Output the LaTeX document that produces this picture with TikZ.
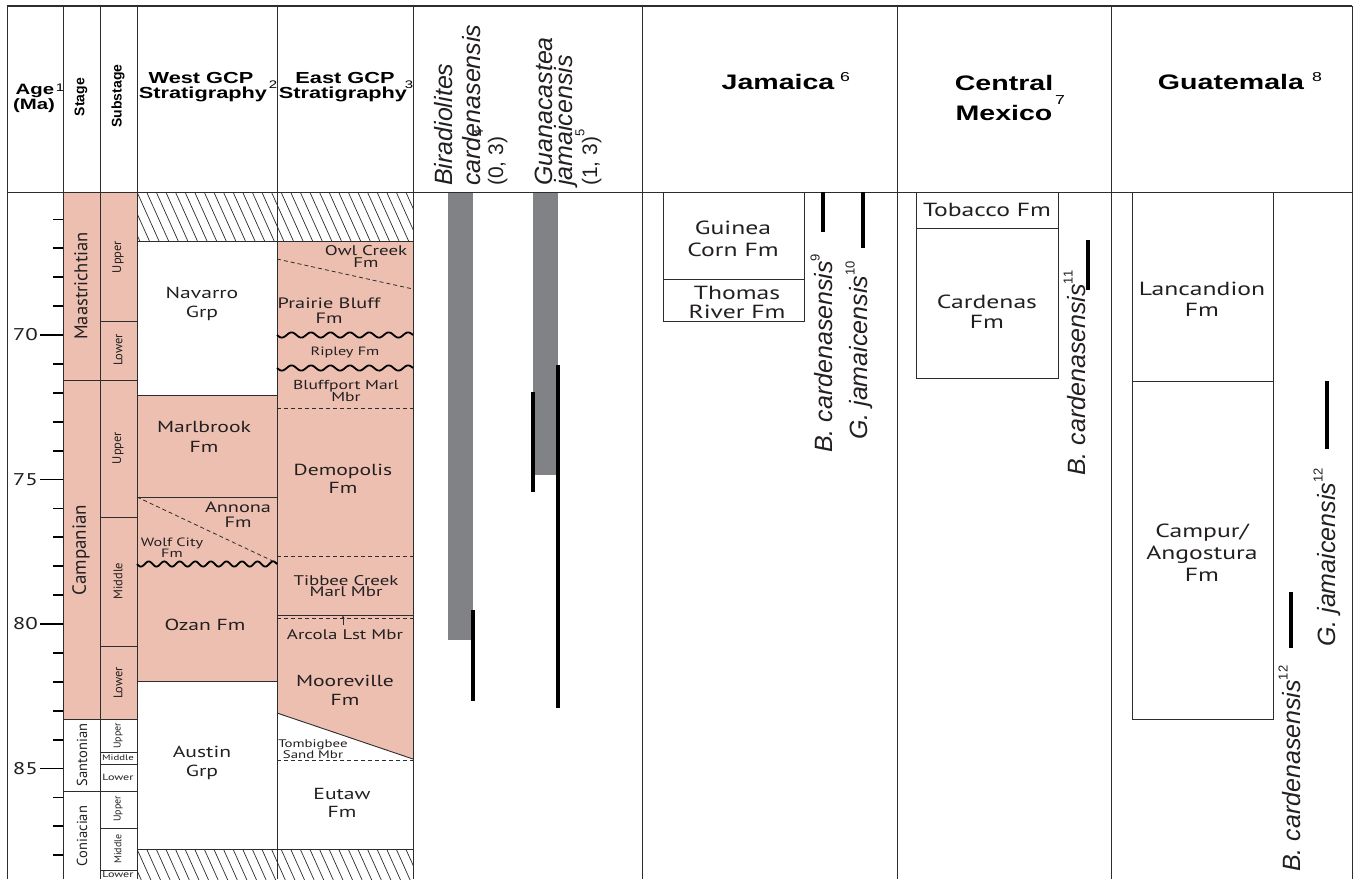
\documentclass[tikz,border=0pt]{standalone}
\usepackage{fontspec}
\setmainfont{Liberation Sans}
\newfontfamily\hdr[FakeStretch=1.36]{Liberation Sans}
\newfontfamily\lab[FakeStretch=1.35]{PT Sans}
\newfontfamily\rlab{PT Sans}
\newfontfamily\spf{Liberation Sans}
\usetikzlibrary{arrows.meta}
\definecolor{pinkf}{RGB}{236,191,177}
\definecolor{barg}{RGB}{128,130,133}
\definecolor{lnc}{RGB}{45,45,45}
\definecolor{txtc}{RGB}{35,31,32}
\newcommand{\myfs}[2]{\fontsize{#1}{#2}\selectfont}
\newcommand{\mysup}[2]{\raisebox{#1}{\myfs{13}{13}\upshape #2}}
\begin{document}
\begin{tikzpicture}[x=1pt,y=-1pt,
  ln/.style={draw=lnc, line width=0.9pt},
  dsh/.style={draw=lnc, line width=0.8pt, dash pattern=on 4pt off 3pt},
  wav/.style={draw=black, line width=1.8pt},
  sbar/.style={draw=black, line width=4pt},
  tick/.style={draw=black, line width=1.8pt},
  hatchl/.style={draw=lnc, line width=0.7pt},
  lbl/.style={inner sep=0pt, align=center, text=txtc},
  hd/.style={inner sep=0pt, align=center, text=black, font=\hdr\bfseries\myfs{16}{15}},
  bighd/.style={inner sep=0pt, align=center, text=black, font=\hdr\bfseries\myfs{21}{30}},
  rot/.style={inner sep=0pt, rotate=90, text=txtc},
  sph/.style={inner sep=0pt, rotate=90, anchor=base west, font=\spf\myfs{25}{25}, text=txtc},
  agel/.style={inner sep=0pt, anchor=east, font=\lab\myfs{17}{17}, text=txtc}
]
\useasboundingbox (0,0) rectangle (1354,879);
\fill[white] (0,0) rectangle (1354,879);

% ---------- fills
\fill[pinkf] (63,192) rectangle (137,719);
\fill[pinkf] (137,395) rectangle (277,681);
\fill[pinkf] (277,241) -- (413,241) -- (413,759) -- (277,713) -- cycle;
\fill[barg] (448,192) rectangle (473,640);
\fill[barg] (533,192) rectangle (558,475);

% ---------- hatching
\begin{scope}
\clip (137,192) rectangle (413,241);
\foreach \i in {-4,...,30} \draw[hatchl] ({137+\i*9.6},192) -- ++(22,49);
\end{scope}
\begin{scope}
\clip (137,849) rectangle (413,879);
\foreach \i in {-4,...,30} \draw[hatchl] ({137+\i*9.6},849) -- ++(22,49);
\end{scope}

% ---------- frame and column lines
\draw[draw=lnc, line width=2pt] (7,6) -- (1352,6);
\draw[ln] (7,6) -- (7,879);
\draw[ln] (1352,6) -- (1352,879);
\draw[ln] (7,192) -- (1352,192);
\foreach \cx in {63,100,137,277,413,642,897,1111} \draw[ln] (\cx,6) -- (\cx,879);

% ---------- stage / substage boundaries
\foreach \yy in {380,719,791} \draw[ln] (63,\yy) -- (100,\yy);
\foreach \yy in {321,380,517,646,719,752,764,791,828,870} \draw[ln] (100,\yy) -- (137,\yy);

% ---------- West GCP lines
\foreach \yy in {241,395,497,681,849} \draw[ln] (137,\yy) -- (277,\yy);
\draw[dsh] (137,497) -- (277,563);
\draw[wav] plot[domain=137:277, samples=150, smooth] (\x, {564+2.6*sin((\x-137)/140*9*360)});

% ---------- East GCP lines
\foreach \yy in {241,615,849} \draw[ln] (277,\yy) -- (413,\yy);
\draw[dsh] (277,259) -- (413,289);
\foreach \yy in {408,556,618,760} \draw[dsh] (277,\yy) -- (413,\yy);
\draw[wav] plot[domain=277:413, samples=150, smooth] (\x, {335+2.6*sin((\x-277)/136*7*360)});
\draw[wav] plot[domain=277:413, samples=150, smooth] (\x, {368+2.6*sin((\x-277)/136*7*360)});
\draw[ln] (277,713) -- (413,759);
\coordinate (arT) at (343,615.5);
\coordinate (arB) at (343,625);
\draw[draw=lnc, line width=0.7pt, -{Stealth[length=3.5pt,width=3pt]}] (arB) -- (arT);

% ---------- range bars
\coordinate (b1a) at (473,610); \coordinate (b1b) at (473,701);
\coordinate (b2a) at (533,392); \coordinate (b2b) at (533,492);
\coordinate (b3a) at (558,365); \coordinate (b3b) at (558,708);
\draw[sbar] (b1a) -- (b1b);
\draw[sbar] (b2a) -- (b2b);
\draw[sbar] (b3a) -- (b3b);

% ---------- ticks and ages
\foreach \a in {66,...,88} \draw[tick] (53,{335+(\a-70)*28.9}) -- (63,{335+(\a-70)*28.9});
\foreach \a in {70,75,80,85} {
  \draw[tick] (40,{335+(\a-70)*28.9}) -- (63,{335+(\a-70)*28.9});
  \node[agel] (age\a) at (38,{335+(\a-70)*28.9}) {\a};
}

% ---------- headers
\node[hd, anchor=base, font=\hdr\bfseries\myfs{15}{15}] (hAge) at (35,94) {Age};
\node[hd, anchor=base, font=\hdr\bfseries\myfs{15}{15}] (hMa) at (34,109) {(Ma)};
\node[inner sep=0pt, font=\hdr\myfs{11}{11}] (hAgeS) at (60,88) {1};
\node[hd, rot, text=black, font=\spf\bfseries\myfs{14}{14}] (hStage) at (81,97) {Stage};
\node[hd, rot, text=black, font=\spf\bfseries\myfs{14}{14}] (hSub) at (118,96) {Substage};
\node[hd, anchor=base] (hW1) at (201,83) {West GCP};
\node[hd, anchor=base] (hW2) at (203,98) {Stratigraphy};
\node[inner sep=0pt, font=\hdr\myfs{11}{11}] (hW3) at (273,85) {2};
\node[hd, anchor=base] (hE1) at (345,83) {East GCP};
\node[hd, anchor=base] (hE2) at (343,98) {Stratigraphy};
\node[inner sep=0pt, font=\hdr\myfs{11}{11}] (hE3) at (409,85) {3};

\node[sph] (bir1) at (452,186) {\itshape Biradiolites};
\node[sph] (bir2) at (480,186) {\itshape cardenasensis};
\node[sph, font=\spf\myfs{21}{21}] (bir3) at (503,186) {(0, 3)\mysup{0.95em}{4}};
\node[sph] (gua1) at (552,186) {\itshape Guanacastea};
\node[sph] (gua2) at (572,186) {\itshape jamaicensis};
\node[sph, font=\spf\myfs{21}{21}] (gua3) at (597,186) {(1, 3)\mysup{0.6em}{5}};

\node[bighd, anchor=base] (hJam) at (778,89) {Jamaica};
\node[inner sep=0pt, font=\hdr\myfs{13}{13}] (hJamS) at (845,77) {6};
\node[bighd, anchor=base] (hCM1) at (1004,90) {Central};
\node[bighd, anchor=base] (hCM2) at (1004,120) {Mexico};
\node[inner sep=0pt, font=\hdr\myfs{13}{13}] (hCMS) at (1060,100) {7};
\node[bighd, anchor=base] (hGua) at (1231,89) {Guatemala};
\node[inner sep=0pt, font=\hdr\myfs{13}{13}] (hGuaS) at (1317,77) {8};

% ---------- stage names
\node[rot, font=\rlab\myfs{18.5}{18.5}] (sMaa) at (81,286) {Maastrichtian};
\node[rot, font=\rlab\myfs{19}{19}] (sCam) at (81,550) {Campanian};
\node[rot, font=\rlab\myfs{14.5}{14.5}] (sSan) at (82,755) {Santonian};
\node[rot, font=\rlab\myfs{14.5}{14.5}] (sCon) at (82,836) {Coniacian};

% ---------- substages
\node[rot, font=\rlab\myfs{12.5}{12.5}] (ssMU) at (118,257) {Upper};
\node[rot, font=\rlab\myfs{12.5}{12.5}] (ssML) at (118,350) {Lower};
\node[rot, font=\rlab\myfs{12.5}{12.5}] (ssCU) at (118,448) {Upper};
\node[rot, font=\rlab\myfs{12.5}{12.5}] (ssCM) at (118,581) {Middle};
\node[rot, font=\rlab\myfs{12.5}{12.5}] (ssCL) at (118,683) {Lower};
\node[rot, font=\rlab\myfs{10}{10}] (ssSU) at (118,736) {Upper};
\node[lbl, font=\lab\myfs{8}{8}] (ssSM) at (118,758) {Middle};
\node[lbl, font=\lab\myfs{9}{9}] (ssSL) at (118,777) {Lower};
\node[rot, font=\rlab\myfs{10}{10}] (ssNU) at (118,809) {Upper};
\node[rot, font=\rlab\myfs{10}{10}] (ssNM) at (118,849) {Middle};
\node[lbl, font=\lab\myfs{9}{9}] (ssNL) at (118,874.5) {Lower};

% ---------- West GCP formations
\node[lbl, font=\lab\myfs{16}{19}] (fNav) at (202,304) {Navarro\\Grp};
\node[lbl, font=\lab\myfs{16}{20}] (fMar) at (204,437) {Marlbrook\\Fm};
\node[lbl, font=\lab\myfs{15}{15}] (fAnn) at (238,515) {Annona\\Fm};
\node[lbl, font=\lab\myfs{12}{11}] (fWol) at (172,548) {Wolf City\\Fm};
\node[lbl, font=\lab\myfs{16}{16}] (fOza) at (205,625) {Ozan Fm};
\node[lbl, font=\lab\myfs{16}{19}] (fAus) at (202,763) {Austin\\Grp};

% ---------- East GCP formations
\node[lbl, font=\lab\myfs{14}{12}] (fOwl) at (366,257) {Owl Creek\\Fm};
\node[lbl, font=\lab\myfs{15}{15}] (fPra) at (329,311) {Prairie Bluff\\Fm};
\node[lbl, font=\lab\myfs{12}{12}] (fRip) at (345,352) {Ripley Fm};
\node[lbl, font=\lab\myfs{13}{11}] (fBlu) at (346,391) {Bluffport Marl\\Mbr};
\node[lbl, font=\lab\myfs{16}{18}] (fDem) at (343,479) {Demopolis\\Fm};
\node[lbl, font=\lab\myfs{14}{11.5}] (fTib) at (346,586) {Tibbee Creek\\Marl Mbr};
\node[lbl, font=\lab\myfs{14}{14}] (fArc) at (345,635) {Arcola Lst Mbr};
\node[lbl, font=\lab\myfs{16}{19}] (fMoo) at (345,690) {Mooreville\\Fm};
\node[lbl, font=\lab\myfs{11}{11}] (fTom) at (313,749) {Tombigbee\\Sand Mbr};
\node[lbl, font=\lab\myfs{16}{18}] (fEut) at (342,803) {Eutaw\\Fm};

% ---------- Jamaica
\draw[ln] (663,192) rectangle (804,279);
\draw[ln] (663,279) rectangle (804,321);
\node[lbl, font=\lab\myfs{19}{22}] (fGui) at (733,239) {Guinea\\Corn Fm};
\node[lbl, font=\lab\myfs{19}{19}] (fTho) at (737,302) {Thomas\\River Fm};
\coordinate (jb1) at (823,192); \coordinate (jb2) at (823,232);
\coordinate (jg1) at (863,192); \coordinate (jg2) at (863,248);
\draw[sbar] (jb1) -- (jb2);
\draw[sbar] (jg1) -- (jg2);
\node[sph] (jB) at (832,453) {\itshape B. cardenasensis\mysup{0.5em}{9}};
\node[sph] (jG) at (867,440) {\itshape G. jamaicensis\mysup{0.5em}{10}};

% ---------- Central Mexico
\draw[ln] (916,192) rectangle (1058,228);
\draw[ln] (916,228) rectangle (1058,378);
\node[lbl, font=\lab\myfs{19}{19}] (fTob) at (987,210) {Tobacco Fm};
\node[lbl, font=\lab\myfs{19}{20}] (fCar) at (987,312) {Cardenas\\Fm};
\coordinate (cb1) at (1088,240); \coordinate (cb2) at (1088,290);
\draw[sbar] (cb1) -- (cb2);
\node[sph] (cB) at (1085,476) {\itshape B. cardenasensis\mysup{0.5em}{11}};

% ---------- Guatemala
\draw[ln] (1132,192) rectangle (1273,381);
\draw[ln] (1132,381) rectangle (1273,719);
\node[lbl, font=\lab\myfs{19}{21}] (fLan) at (1202,299) {Lancandion\\Fm};
\node[lbl, font=\lab\myfs{19}{22}] (fCam) at (1202,553) {Campur/\\Angostura\\Fm};
\coordinate (gb1) at (1291,592); \coordinate (gb2) at (1291,648);
\coordinate (gg1) at (1327,381); \coordinate (gg2) at (1327,449);
\draw[sbar] (gb1) -- (gb2);
\draw[sbar] (gg1) -- (gg2);
\node[sph] (gB) at (1300,872) {\itshape B. cardenasensis\mysup{0.5em}{12}};
\node[sph] (gG) at (1335,647) {\itshape G. jamaicensis\mysup{0.5em}{12}};
\end{tikzpicture}
\end{document}
